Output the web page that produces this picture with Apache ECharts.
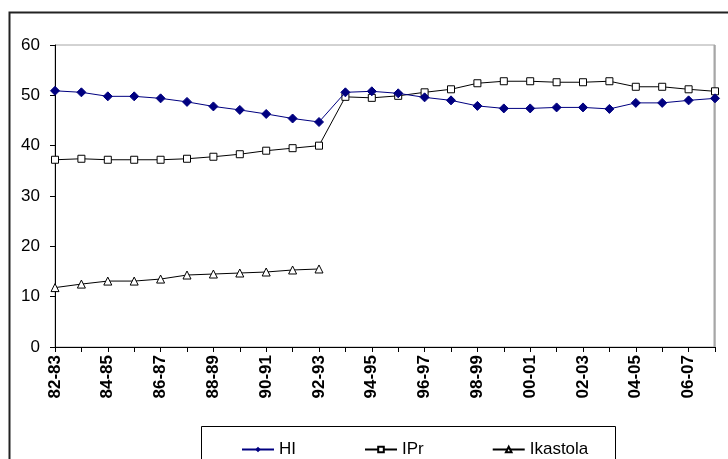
<!DOCTYPE html>
<html>
<head>
<meta charset="utf-8">
<script src="https://cdn.jsdelivr.net/npm/echarts@6/dist/echarts.min.js"></script>
<style>
html,body{margin:0;padding:0;background:#fff;}
#chart{width:728px;height:459px;}
</style>
</head>
<body>
<div id="chart"></div>
<script>
var categories = ['82-83','83-84','84-85','85-86','86-87','87-88','88-89','89-90','90-91','91-92','92-93','93-94','94-95','95-96','96-97','97-98','98-99','99-00','00-01','01-02','02-03','03-04','04-05','05-06','06-07','07-08'];
var seriesNames = ['HI', 'IPr', 'Ikastola'];
var hiValues = [50.9, 50.6, 49.8, 49.8, 49.4, 48.7, 47.8, 47.1, 46.3, 45.4, 44.7, 50.6, 50.8, 50.4, 49.6, 49.0, 47.9, 47.4, 47.4, 47.6, 47.6, 47.3, 48.5, 48.5, 49.0, 49.4];
var iprValues = [37.2, 37.4, 37.2, 37.2, 37.2, 37.4, 37.8, 38.3, 39.0, 39.5, 40.0, 49.7, 49.5, 49.9, 50.6, 51.2, 52.4, 52.8, 52.8, 52.6, 52.6, 52.8, 51.7, 51.7, 51.2, 50.8];
var ikastolaValues = [11.8, 12.5, 13.1, 13.1, 13.5, 14.3, 14.5, 14.7, 14.9, 15.3, 15.5];
var yTicks = { min: 0, max: 60, interval: 10 };

var font = 'Liberation Sans, Arial, sans-serif';
var chart = echarts.init(document.getElementById('chart'), null, {renderer: 'canvas'});
chart.setOption({
  animation: false,
  backgroundColor: '#fff',
  grid: {left: 55, right: 13, top: 45, bottom: 112, show: true, borderColor: '#a6a6a6', borderWidth: 1, backgroundColor: 'transparent'},
  xAxis: {
    type: 'category', data: categories, boundaryGap: false,
    axisLine: {lineStyle: {color: '#000', width: 1}},
    axisTick: {show: true, interval: 0, length: 5, lineStyle: {color: '#000'}},
    axisLabel: {interval: 1, rotate: 90, margin: 8, color: '#000', fontFamily: font, fontWeight: 'bold', fontSize: 17},
    splitLine: {show: false}
  },
  yAxis: {
    type: 'value', min: yTicks.min, max: yTicks.max, interval: yTicks.interval,
    axisLine: {show: true, lineStyle: {color: '#000', width: 1}},
    axisTick: {show: true, length: 5, lineStyle: {color: '#000'}},
    axisLabel: {margin: 15, color: '#000', fontFamily: font, fontSize: 17},
    splitLine: {show: false}
  },
  legend: {
    left: 236, top: 436, itemWidth: 32, itemHeight: 7, itemGap: 68,
    textStyle: {fontFamily: font, fontSize: 17, color: '#000'},
    data: seriesNames
  },
  graphic: [
    {type: 'rect', shape: {x: 9.5, y: 12.5, width: 740, height: 470}, style: {fill: null, stroke: '#222', lineWidth: 2}, z: 100},
    {type: 'rect', shape: {x: 201.5, y: 426.5, width: 414, height: 60}, style: {fill: null, stroke: '#000', lineWidth: 1}, z: 100},
    {type: 'line', shape: {x1: 714.5, y1: 45, x2: 714.5, y2: 347}, style: {stroke: '#a6a6a6', lineWidth: 2}, z: 1}
  ],
  series: [
    {name: seriesNames[0], type: 'line', data: hiValues, symbol: 'diamond', symbolSize: 9,
     lineStyle: {color: '#000080', width: 1}, itemStyle: {color: '#000080', borderColor: '#000080'}, z: 3},
    {name: seriesNames[1], type: 'line', data: iprValues, symbol: 'rect', symbolSize: 7,
     lineStyle: {color: '#000', width: 1}, itemStyle: {color: '#fff', borderColor: '#000', borderWidth: 1}, z: 2},
    {name: seriesNames[2], type: 'line', data: ikastolaValues, symbol: 'triangle', symbolSize: 8,
     lineStyle: {color: '#000', width: 1}, itemStyle: {color: '#fff', borderColor: '#000', borderWidth: 1}, z: 2}
  ]
});
</script>
</body>
</html>
